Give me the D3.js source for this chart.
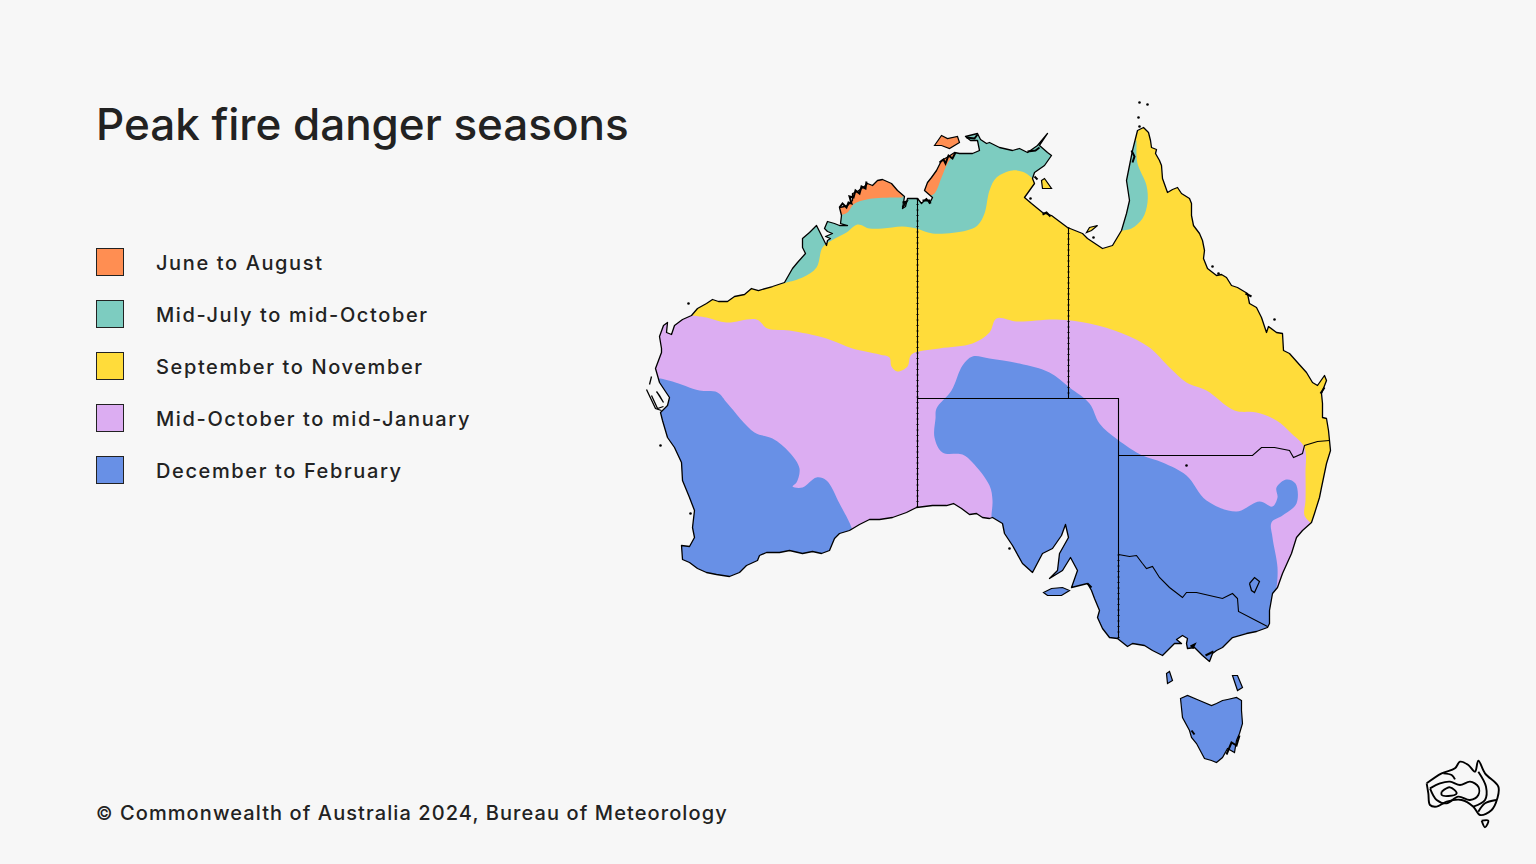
<!DOCTYPE html>
<html><head><meta charset="utf-8">
<script src="https://cdn.jsdelivr.net/npm/d3@7"></script>
<style>
html,body{margin:0;padding:0;background:#f7f7f7}
svg{display:block}
text{font-family:Inter,"Noto Sans",sans-serif;fill:#222;font-weight:450}
</style></head><body><svg id="c" width="1536" height="864"></svg>
<script>
const title="Peak fire danger seasons";
const creditMark="©";
const credit=" Commonwealth of Australia 2024, Bureau of Meteorology";
const seasons=["June to August","Mid-July to mid-October","September to November","Mid-October to mid-January","December to February"];
const seasonColours=["#ff8e52","#7dccc0","#ffdc3a","#dcadf2","#6890e6"];

// Outlines, in map-grid units
const coast=[[22,258],[20,246],[24,235],[28,232],[27,242],[32,244],[35,235],[43,229],[52,225],[58,218],[67,213],[73,209],[79,211],[88,211],[95,206],[105,204],[112,198],[119,200],[133,196],[145,192],[153,178],[158,172],[166,163],[163,157],[163,148],[170,142],[177,135],[187,155],[188,150],[191,148],[186,146],[193,143],[188,141],[185,138],[188,131],[195,133],[200,135],[208,135],[201,133],[202,125],[200,117],[205,116],[208,115],[213,110],[213,103],[218,101],[222,98],[226,95],[228,93],[233,95],[238,90],[243,89],[252,93],[258,100],[265,106],[263,118],[266,116],[268,108],[278,108],[282,113],[287,108],[290,113],[293,107],[285,100],[288,92],[292,87],[297,80],[302,70],[309,66],[315,62],[320,63],[333,63],[340,60],[338,50],[331,50],[326,46],[338,43],[341,49],[347,53],[350,52],[360,57],[373,60],[380,58],[388,62],[398,55],[408,43],[400,55],[408,62],[412,65],[405,75],[395,82],[393,88],[395,93],[390,100],[385,107],[392,113],[403,122],[412,125],[428,137],[443,143],[448,148],[463,158],[473,155],[482,140],[487,123],[490,110],[487,90],[490,75],[493,60],[498,40],[504,37],[509,42],[511,50],[512,57],[517,59],[516,63],[520,70],[522,75],[523,88],[528,102],[533,99],[538,97],[542,103],[550,108],[552,113],[552,125],[554,135],[560,143],[563,150],[565,160],[564,168],[568,178],[577,185],[582,184],[587,187],[592,195],[598,197],[608,203],[610,213],[617,217],[622,227],[627,242],[629,236],[637,242],[643,243],[644,260],[650,263],[658,272],[667,282],[673,292],[678,295],[685,285],[687,290],[682,303],[683,313],[683,327],[687,328],[689,340],[690,350],[691,360],[687,373],[682,397],[680,407],[675,423],[672,432],[663,440],[657,447],[652,463],[643,483],[638,497],[633,503],[630,520],[630,533],[628,537],[617,541],[607,543],[593,547],[583,557],[577,560],[573,563],[570,571],[563,565],[555,557],[548,558],[547,553],[548,548],[543,545],[537,549],[542,553],[535,553],[523,565],[513,560],[505,555],[493,553],[488,556],[478,548],[470,547],[463,538],[458,527],[460,520],[455,508],[452,500],[448,493],[432,497],[438,480],[431,467],[423,480],[410,488],[418,480],[420,463],[429,447],[426,434],[422,445],[413,458],[403,463],[393,482],[383,473],[373,455],[365,443],[363,433],[353,427],[350,428],[343,427],[337,423],[330,424],[322,418],[314,413],[307,415],[293,415],[277,417],[267,422],[253,427],[240,429],[230,429],[220,434],[210,440],[200,443],[195,448],[190,460],[182,463],[173,461],[163,463],[150,460],[140,462],[127,462],[120,465],[118,470],[107,475],[100,482],[90,486],[77,484],[67,482],[58,478],[50,472],[43,469],[42,455],[50,456],[55,447],[53,437],[55,420],[50,407],[43,390],[42,372],[35,357],[28,347],[23,330],[21,322],[28,315],[30,307],[20,292],[16,278],[22,262]];
const islands=[
 {name:"Melville",season:0,pts:[[295,55],[302,45],[308,48],[318,46],[320,52],[310,58],[302,55]]},
 {name:"Groote",season:2,pts:[[402,90],[405,88],[412,98],[403,98]]},
 {name:"Mornington",season:2,pts:[[447,142],[450,137],[458,135],[452,140]]},
 {name:"Kangaroo",season:4,pts:[[404,502],[412,498],[423,497],[430,500],[422,505],[408,505]]},
 {name:"King",season:4,pts:[[527,583],[530,581],[533,590],[528,593]]},
 {name:"Flinders",season:4,pts:[[593,585],[598,585],[603,597],[598,600]]},
 {name:"Tasmania",season:4,pts:[[541,608],[548,605],[560,610],[572,615],[577,613],[583,610],[588,609],[597,607],[602,610],[602,620],[603,633],[600,643],[597,650],[595,662],[588,658],[583,667],[577,672],[572,670],[565,668],[557,653],[552,647],[550,640],[543,627]]}
];
const islets=[[49,213],[21,355],[51,423],[500,12],[508,14],[499,27],[500,36],[391,108],[454,147],[573,176],[579,183],[635,229],[547,375],[370,458]];
const sharkBay=[[[12,286],[10,294]],[[7,299],[16,318],[22,320]],[[12,305],[18,318],[24,316]],[[17,301],[24,312],[20,305],[17,301]]];
const act=[[610,493],[615,487],[620,491],[615,502],[612,500],[610,493]];
const reefs=[
 [[200,117],[203,113],[207,117],[209,112],[212,113],[210,106],[214,107],[216,100],[220,103],[222,96],[226,98],[227,91]],
 [[263,112],[267,111],[263,117]],
 [[283,110],[290,110],[291,113]],
 [[300,72],[304,69],[306,73],[309,65],[313,68],[316,62]],
 [[327,47],[335,48],[338,44]],
 [[388,61],[396,60],[400,57]],
 [[395,86],[398,89]],
 [[403,124],[407,122],[411,126]],
 [[492,60],[495,66],[493,72]],
 [[606,203],[612,206]],
 [[685,297],[681,303]],
 [[551,556],[555,554],[553,558]],
 [[566,565],[574,561]],
 [[448,493],[452,497]],
 [[587,664],[592,652],[597,655],[600,645]],
 [[552,640],[555,644]]
];

// Season boundaries
const orangeKimberleyEdge=[[200,125],[208,122],[213,115],[217,112],[233,108],[263,107]];
const orangeKimberleyOuter=[[270,70],[190,70],[190,125]];
const orangeDalyEdge=[[287,107],[295,103],[302,87],[308,73],[316,62]];
const orangeDalyOuter=[[316,40],[270,40],[275,100]];
const tealNorthEdge=[[143,193],[163,187],[177,177],[183,157],[192,150],[207,142],[218,134],[230,138],[243,138],[263,136],[277,138],[293,143],[327,140],[338,135],[345,123],[350,100],[357,87],[373,80],[385,82],[393,88]];
const tealNorthOuter=[[425,60],[425,20],[130,20],[130,195]];
const tealCapeEdge=[[497,58],[498,73],[507,95],[508,112],[503,128],[492,138],[483,140]];
const tealCapeOuter=[[470,130],[470,50],[497,50]];
const purpleEdge=[[53,225],[67,227],[87,232],[117,229],[128,238],[150,240],[187,248],[213,258],[240,264],[250,267],[252,276],[258,281],[268,276],[272,264],[300,258],[333,253],[350,242],[357,228],[377,231],[417,229],[450,233],[483,243],[510,257],[530,277],[547,292],[567,300],[595,320],[617,322],[637,330],[652,343],[665,357],[666,383],[666,410],[665,425],[672,433]];
const purpleOuter=[[700,445],[700,600],[0,600],[0,225]];
const blueWestEdge=[[21,288],[33,291],[60,300],[78,302],[88,313],[115,342],[133,348],[150,362],[160,378],[157,392],[153,396],[163,397],[177,387],[187,390],[200,413],[212,437],[213,443]];
const blueWestOuter=[[213,520],[0,520],[0,288]];
const blueEastEdge=[[352,432],[352,425],[353,410],[350,395],[333,372],[323,364],[303,362],[295,347],[296,328],[297,318],[312,300],[323,275],[333,266],[350,268],[380,273],[410,282],[430,297],[450,313],[460,333],[478,349],[503,365],[523,372],[547,385],[567,410],[597,421],[620,411],[633,416],[638,407],[637,397],[647,389],[656,393],[657,413],[643,425],[632,432],[633,447],[638,477],[637,497],[634,510]];
const blueEastOuter=[[660,600],[340,600]];

// State borders
const borders=[
 [[278,108],[278,417]],
 [[429,137],[429,308]],
 [[278,308],[479,308],[479,548]],
 [[479,365],[613,365],[622,357],[635,357],[650,360],[654,367],[663,363],[665,355],[678,351],[690,350]],
 [[479,464],[490,466],[497,465],[503,473],[507,478],[513,476],[520,487],[530,497],[543,507],[547,502],[557,502],[570,505],[583,508],[593,503],[598,508],[599,521],[628,536]]
];
const surveyedBorders=[[[278,108],[278,417]],[[429,137],[429,308]],[[479,464],[479,548]]];

// Logo outlines
const logoOutline=[[50,100],[95,70],[135,55],[150,35],[175,45],[195,65],[205,32],[225,70],[265,110],[262,145],[245,180],[210,195],[190,170],[155,150],[110,155],[80,170],[60,165],[55,130],[50,100]];
const logoLines=[
 [[60,115],[90,100],[120,95],[150,105],[180,95],[205,110],[205,135],[180,150],[145,140],[110,160],[80,150],[60,115]],
 [[95,125],[120,112],[140,130],[115,138],[95,135],[95,125]],
 [[100,70],[125,75],[135,88]],
 [[205,65],[228,110],[225,150],[190,170]],
 [[205,185],[225,160],[258,150]]
];
const logoIsland=[[215,212],[235,212],[225,232],[215,212]];

const svg=d3.select("#c");
const x=d3.scaleLinear().domain([0,700]).range([639.5,1339.5]);
const y=d3.scaleLinear().domain([0,700]).range([90.5,790.5]);
const straight=d3.line().x(d=>x(d[0])).y(d=>y(d[1]));
const smooth=d3.line().x(d=>x(d[0])).y(d=>y(d[1])).curve(d3.curveCatmullRom.alpha(0.5));
const band=(edge,outer)=>smooth(edge)+straight(outer).replace("M","L")+"Z";

svg.append("text").attr("x",96).attr("y",140).attr("font-size",44).attr("letter-spacing",-0.02).text(title);

seasons.forEach((s,i)=>{
  const g=svg.append("g").attr("transform",`translate(96,${248+i*52})`);
  g.append("rect").attr("x",.5).attr("y",.5).attr("width",27).attr("height",27).attr("fill",seasonColours[i]).attr("stroke","#222");
  g.append("text").attr("x",60).attr("y",22).attr("font-size",20).attr("letter-spacing",1.62).text(s);
});
const foot=svg.append("text").attr("x",96).attr("y",820).attr("font-size",20).attr("letter-spacing",1.09);
foot.append("tspan").attr("font-size",18).text(creditMark);
foot.append("tspan").attr("xml:space","preserve").text(credit);

const defs=svg.append("defs");
defs.append("clipPath").attr("id","land").append("path").attr("d",straight(coast)+"Z");
const map=svg.append("g");
const fills=map.append("g").attr("clip-path","url(#land)");
fills.append("path").attr("d",straight(coast)+"Z").attr("fill",seasonColours[2]);
[[tealNorthEdge,tealNorthOuter,1],[tealCapeEdge,tealCapeOuter,1],[orangeKimberleyEdge,orangeKimberleyOuter,0],[orangeDalyEdge,orangeDalyOuter,0],[purpleEdge,purpleOuter,3],[blueWestEdge,blueWestOuter,4],[blueEastEdge,blueEastOuter,4]]
 .forEach(([e,o,c])=>fills.append("path").attr("d",band(e,o)).attr("fill",seasonColours[c]));
map.append("path").attr("d",straight(coast)+"Z").attr("fill","none").attr("stroke","#000").attr("stroke-width",1.3).attr("stroke-linejoin","round");
islands.forEach(d=>map.append("path").attr("d",straight(d.pts)+"Z").attr("fill",seasonColours[d.season]).attr("stroke","#000").attr("stroke-width",1.2));
map.selectAll("circle.islet").data(islets).join("circle").attr("cx",d=>x(d[0])).attr("cy",d=>y(d[1])).attr("r",1.3).attr("fill","#000");
sharkBay.forEach(d=>map.append("path").attr("d",straight(d)).attr("fill","none").attr("stroke","#000").attr("stroke-width",1.3));
reefs.forEach(d=>map.append("path").attr("d",straight(d)).attr("fill","none").attr("stroke","#000").attr("stroke-width",2));
map.append("path").attr("d",straight(act)).attr("fill","none").attr("stroke","#000").attr("stroke-width",1.2);
borders.forEach(d=>map.append("path").attr("d",straight(d)).attr("fill","none").attr("stroke","#000").attr("stroke-width",1.1));
surveyedBorders.forEach(d=>map.append("path").attr("d",straight(d)).attr("fill","none").attr("stroke","#000").attr("stroke-width",2).attr("stroke-dasharray","1 4.5"));

const lx=d3.scaleLinear().domain([0,300]).range([1410,1510]);
const ly=d3.scaleLinear().domain([0,270]).range([750,840]);
const logoLine=d3.line().x(d=>lx(d[0])).y(d=>ly(d[1])).curve(d3.curveCatmullRom);
const logo=svg.append("g").attr("fill","none").attr("stroke","#000").attr("stroke-width",1.9);
logo.append("path").attr("d",logoLine(logoOutline));
logoLines.forEach(d=>logo.append("path").attr("d",logoLine(d)));
logo.append("path").attr("d",logoLine(logoIsland));
</script></body></html>
